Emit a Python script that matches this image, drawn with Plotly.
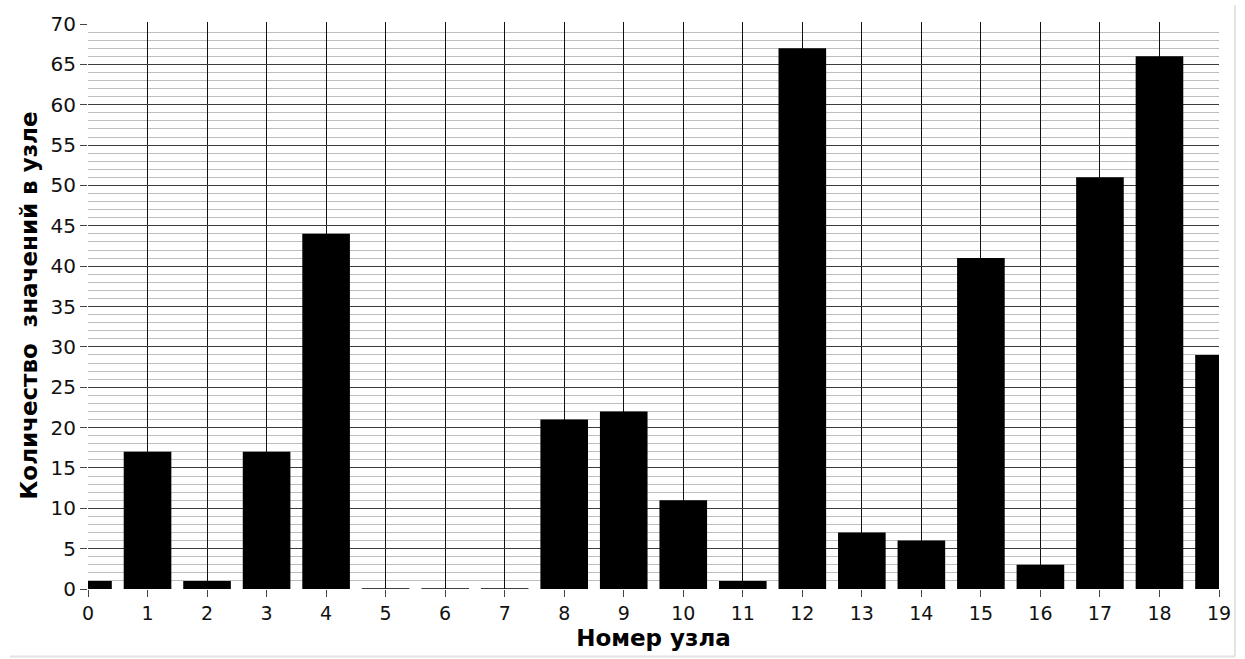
import plotly.graph_objects as go

nodes = list(range(20))
counts = [1, 17, 1, 17, 44, 0, 0, 0, 21, 22, 11, 1, 67, 7, 6, 41, 3, 51, 66, 29]
y_ticks = list(range(0, 75, 5))
x_title = "Номер узла"
y_title = "Количество\u00a0\u00a0значений в узле"

W, H = 1245, 659
ml, mr, mt, mb = 88, 26, 17, 70

fig = go.Figure()
fig.add_trace(go.Bar(x=nodes, y=counts, width=0.8, marker=dict(color="#000000", line=dict(width=0)),
                     hoverinfo="x+y", showlegend=False))
# invisible trace to anchor label axes
fig.add_trace(go.Scatter(x=[nodes[0]], y=[0], xaxis="x2", yaxis="y2", mode="markers",
                         marker=dict(opacity=0), hoverinfo="skip", showlegend=False))

# zero-valued bars drawn as a thin baseline segment
shapes = []
for n, c in zip(nodes, counts):
    if c == 0:
        shapes.append(dict(type="line", xref="x", yref="y", x0=n - 0.4, x1=n + 0.4, y0=0, y1=0,
                           line=dict(color="#000", width=1.5)))
# light frame of the screenshot
pw, ph = W - ml - mr, H - mt - mb
shapes.append(dict(type="line", xref="paper", yref="paper", x0=(1235 - ml) / pw, x1=(1235 - ml) / pw,
                   y0=-(mb - 2) / ph, y1=1 + mt / ph, line=dict(color="#e4e4e4", width=2)))
shapes.append(dict(type="line", xref="paper", yref="paper", x0=-(ml - 10) / pw, x1=(1235 - ml) / pw,
                   y0=-(mb - 2) / ph, y1=-(mb - 2) / ph, line=dict(color="#e4e4e4", width=2)))

xr = [nodes[0], nodes[-1]]
yr = [0, 70.25]
fam = "DejaVu Sans, Verdana, sans-serif"
font_xtick = dict(family=fam, size=19, color="#111111")
font_ytick = dict(family=fam, size=20, color="#111111")
font_title = dict(family=fam, size=23, color="#000", weight="bold")

fig.update_layout(
    width=W, height=H,
    margin=dict(l=ml, r=mr, t=mt, b=mb, pad=0),
    plot_bgcolor="white", paper_bgcolor="white",
    bargap=0.2,
    shapes=shapes,
    xaxis=dict(range=xr, tickvals=nodes[1:-1], showgrid=True, gridcolor="#111111", gridwidth=1,
               showticklabels=False, ticks="", zeroline=False, showline=False),
    yaxis=dict(range=yr, tickvals=y_ticks[1:-1], showgrid=True, gridcolor="#3c3c3c", gridwidth=1.2,
               showticklabels=False, ticks="", zeroline=False, showline=False,
               minor=dict(tickmode="array", tickvals=[v for v in range(1, 70) if v % 5 != 0],
                          showgrid=True, gridcolor="#bdbdbd", gridwidth=1, ticks="")),
    xaxis2=dict(range=xr, overlaying="x", anchor="y2", side="bottom", tickvals=nodes,
                ticks="outside", ticklen=7, tickcolor="#444", tickwidth=1, showgrid=False, zeroline=False,
                showline=False, tickfont=font_xtick,
                title=dict(text=x_title, font=font_title, standoff=7)),
    yaxis2=dict(range=yr, overlaying="y", anchor="x2", side="left", tickvals=y_ticks,
                ticks="outside", ticklen=7, tickcolor="#444", tickwidth=1, showgrid=False, zeroline=False,
                showline=False, tickfont=font_ytick,
                title=dict(text=y_title, font=font_title, standoff=6)),
)

fig.write_html("out.html")
